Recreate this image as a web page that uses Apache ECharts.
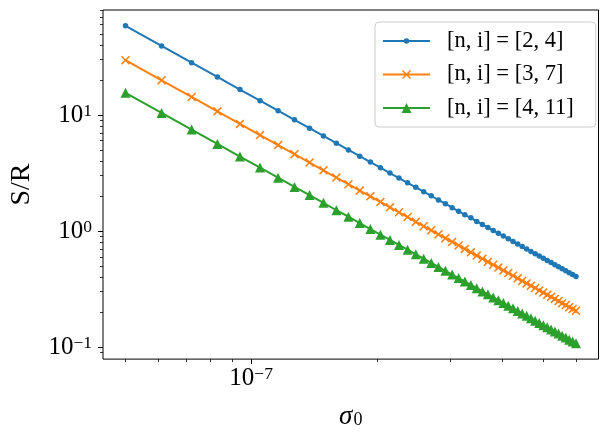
<!DOCTYPE html>
<html>
<head>
<meta charset="utf-8">
<script src="https://cdn.jsdelivr.net/npm/echarts@6/dist/echarts.min.js"></script>
<style>html,body{margin:0;padding:0;background:#fff}#c{width:609px;height:435px}</style>
</head>
<body>
<div id="c"></div>
<script>
// sigma_0 values
const sigma = [5.0e-8,6.1e-8,7.2e-8,8.3e-8,9.4e-8,10.5e-8,11.6e-8,12.7e-8,13.8e-8,14.9e-8,
  16.0e-8,17.1e-8,18.2e-8,19.3e-8,20.4e-8,21.5e-8,22.6e-8,23.7e-8,24.8e-8,25.9e-8,
  27.0e-8,28.1e-8,29.2e-8,30.3e-8,31.4e-8,32.5e-8,33.6e-8,34.7e-8,35.8e-8,36.9e-8,
  38.0e-8,39.1e-8,40.2e-8,41.3e-8,42.4e-8,43.5e-8,44.6e-8,45.7e-8,46.8e-8,47.9e-8,
  49.0e-8,50.1e-8,51.2e-8,52.3e-8,53.4e-8,54.5e-8,55.6e-8,56.7e-8,57.8e-8,58.9e-8,60.0e-8];
// S/R for [n, i] = [2, 4]
const sr24 = [58.5,39.31,28.21,21.23,16.55,13.27,10.87,9.07,7.68,6.59,
  5.71,5.00,4.41,3.93,3.51,3.16,2.86,2.60,2.38,2.18,
  2.01,1.85,1.72,1.59,1.48,1.38,1.30,1.21,1.14,1.07,
  1.01,0.957,0.905,0.858,0.814,0.773,0.735,0.700,0.667,0.638,
  0.609,0.583,0.558,0.535,0.513,0.493,0.473,0.455,0.438,0.422,0.406];
// S/R for [n, i] = [3, 7]
const sr37 = [29.6,19.89,14.28,10.74,8.37,6.71,5.50,4.59,3.89,3.33,
  2.89,2.53,2.23,1.99,1.78,1.60,1.45,1.32,1.20,1.10,
  1.015,0.937,0.868,0.806,0.751,0.701,0.655,0.614,0.577,0.543,
  0.512,0.484,0.458,0.434,0.412,0.391,0.372,0.354,0.338,0.323,
  0.308,0.295,0.282,0.271,0.260,0.249,0.239,0.230,0.221,0.213,0.206];
// S/R for [n, i] = [4, 11]
const sr411 = [15.5,10.41,7.48,5.62,4.38,3.52,2.88,2.40,2.04,1.75,
  1.51,1.33,1.17,1.04,0.931,0.838,0.759,0.690,0.630,0.578,
  0.531,0.491,0.454,0.422,0.393,0.367,0.343,0.322,0.302,0.285,
  0.268,0.253,0.240,0.227,0.216,0.205,0.195,0.186,0.177,0.169,
  0.161,0.154,0.148,0.142,0.136,0.131,0.125,0.121,0.116,0.112,0.108];
const seriesNames = ['[n, i] = [2, 4]', '[n, i] = [3, 7]', '[n, i] = [4, 11]'];
// tick values
const xMajorTicks = [1e-7];
const xMinorTicks = [5e-8,6e-8,7e-8,8e-8,9e-8,2e-7,3e-7,4e-7,5e-7,6e-7];
const yMajorTicks = [0.1, 1, 10];
const yMinorTicks = [0.09,0.2,0.3,0.4,0.5,0.6,0.7,0.8,0.9,2,3,4,5,6,7,8,9,20,30,40,50,60,70,80];

const L = Math.log10;
const FONT = 'Liberation Serif';
const colors = ['#1f77b4', '#ff7f0e', '#2ca02c'];

function logRange(vals) {
  const lo = L(Math.min(...vals)), hi = L(Math.max(...vals));
  const m = (hi - lo) * 0.05;
  return [lo - m, hi + m];
}
const xr = logRange(sigma);
const yr = logRange(sr24.concat(sr37, sr411));

function expLabel(v) {
  const e = Math.round(v);
  return '{b|10}{s|' + (e < 0 ? '\u2212' + (-e) : e) + '}';
}
const labelRich = {
  b: {fontFamily: FONT, fontSize: 25, color: '#000', lineHeight: 26, padding: [3, 0, 0, 0], verticalAlign: 'bottom'},
  s: {fontFamily: FONT, fontSize: 17.5, color: '#000', lineHeight: 18, padding: [0, 0, 8, 0], verticalAlign: 'bottom'}
};

const xPath = 'path://M0,1.2L1.2,0L5,3.8L8.8,0L10,1.2L6.2,5L10,8.8L8.8,10L5,6.2L1.2,10L0,8.8L3.8,5Z';
const symbols = ['circle', xPath, 'triangle'];
const symbolSizes = [5.5, 9, 10];
// legend icons: a line with the marker in its middle
const lineRect = 'M0,6L47,6L47,8L0,8Z';
const legendIcons = [
  'path://' + lineRect + 'M20.75,7A2.75,2.75 0 0 1 26.25,7A2.75,2.75 0 0 1 20.75,7Z',
  'path://' + lineRect + 'M19,3.5L20,2.5L23.5,6L27,2.5L28,3.5L24.5,7L28,10.5L27,11.5L23.5,8L20,11.5L19,10.5L22.5,7Z',
  'path://' + lineRect + 'M23.5,2L28.5,12L18.5,12Z'
];
const srData = [sr24, sr37, sr411];

const chart = echarts.init(document.getElementById('c'), null, {renderer: 'canvas'});
chart.setOption({
  animation: false,
  grid: {left: 102, right: 10.5, top: 10, bottom: 75, show: true, borderColor: '#000', borderWidth: 1, backgroundColor: 'transparent'},
  legend: {
    orient: 'vertical', left: 375, top: 22,
    padding: [7, 22, 7, 8], itemGap: 9.5, itemWidth: 47, itemHeight: 14, symbolKeepAspect: true,
    backgroundColor: 'rgba(255,255,255,0.8)', borderColor: '#cccccc', borderWidth: 1, borderRadius: 4,
    textStyle: {fontFamily: FONT, fontSize: 22.5, color: '#000', padding: [0, 0, 0, 12], lineHeight: 24},
    data: seriesNames.map((n, k) => ({name: n, icon: legendIcons[k]}))
  },
  xAxis: [{
    type: 'value', min: xr[0], max: xr[1],
    name: '{i|\u03c3}{s|0}', nameLocation: 'middle', nameGap: 38,
    nameTextStyle: {rich: {
      i: {fontFamily: FONT, fontStyle: 'italic', fontSize: 27, lineHeight: 26, verticalAlign: 'top', color: '#000'},
      s: {fontFamily: FONT, fontSize: 18, lineHeight: 16, padding: [15, 0, 0, 1], verticalAlign: 'bottom', color: '#000'}
    }},
    axisLine: {show: false, onZero: false},
    splitLine: {show: false},
    axisTick: {show: true, length: 5, lineStyle: {color: '#000', width: 1}, customValues: xMajorTicks.map(L)},
    axisLabel: {customValues: xMajorTicks.map(L), formatter: expLabel, rich: labelRich, margin: 6}
  }, {
    type: 'value', min: xr[0], max: xr[1], position: 'bottom',
    axisLine: {show: false, onZero: false}, splitLine: {show: false},
    axisTick: {show: true, length: 3, lineStyle: {color: '#000', width: 0.8}, customValues: xMinorTicks.map(L)},
    axisLabel: {show: false}
  }],
  yAxis: [{
    type: 'value', min: yr[0], max: yr[1],
    name: 'S/R', nameLocation: 'middle', nameGap: 67,
    nameTextStyle: {fontFamily: FONT, fontSize: 28, color: '#000'},
    axisLine: {show: false, onZero: false},
    splitLine: {show: false},
    axisTick: {show: true, length: 5, lineStyle: {color: '#000', width: 1}, customValues: yMajorTicks.map(L)},
    axisLabel: {customValues: yMajorTicks.map(L), formatter: expLabel, rich: labelRich, margin: 11}
  }, {
    type: 'value', min: yr[0], max: yr[1], position: 'left',
    axisLine: {show: false, onZero: false}, splitLine: {show: false},
    axisTick: {show: true, length: 3, lineStyle: {color: '#000', width: 0.8}, customValues: yMinorTicks.map(L)},
    axisLabel: {show: false}
  }],
  series: srData.map((arr, k) => ({
    name: seriesNames[k], type: 'line', xAxisIndex: 0, yAxisIndex: 0,
    data: sigma.map((s, i) => [L(s), L(arr[i])]),
    symbol: symbols[k], symbolSize: symbolSizes[k], showSymbol: true,
    lineStyle: {color: colors[k], width: 2},
    itemStyle: {color: colors[k], borderWidth: 0},
    z: 2 + k
  }))
});
</script>
</body>
</html>
